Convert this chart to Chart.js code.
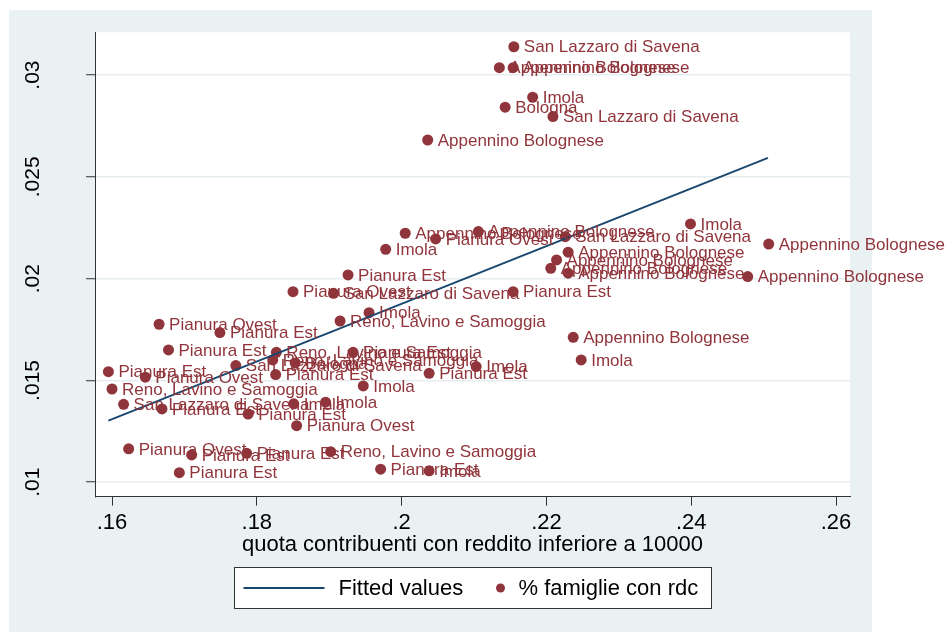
<!DOCTYPE html>
<html>
<head>
<meta charset="utf-8">
<script src="https://cdn.jsdelivr.net/npm/chart.js@4.4.0/dist/chart.umd.min.js"></script>
<style>
  html, body { margin: 0; padding: 0; background: #fff; }
  #wrap { width: 948px; height: 632px; }
</style>
</head>
<body>
<div id="wrap"><canvas id="chart" width="948" height="632"></canvas></div>
<script>
// scatter points: share of low-income taxpayers vs % families with rdc
var xValues = [
    0.2155, 0.2135, 0.2154, 0.2181, 0.2143, 0.2209, 0.2036,
    0.2005, 0.2106, 0.2047, 0.2226, 0.1978, 0.2399, 0.2507,
    0.2230, 0.2214, 0.2206, 0.2230, 0.2478, 0.2154,
    0.1926, 0.1850, 0.1906, 0.1955, 0.1915, 0.1665, 0.1749,
    0.2237, 0.2248, 0.1678, 0.1827, 0.1933, 0.1771, 0.1822,
    0.1853, 0.1595, 0.1646, 0.1826, 0.1600, 0.1947, 0.2038,
    0.2103, 0.1616, 0.1669, 0.1851, 0.1895, 0.1788, 0.1855,
    0.1623, 0.1710, 0.1786, 0.1902, 0.1693, 0.1971, 0.2038
];
var yValues = [
    0.03139, 0.03036, 0.03036, 0.02891, 0.02842, 0.02796, 0.02681,
    0.02223, 0.02231, 0.02195, 0.02206, 0.02144, 0.02269, 0.02170,
    0.02130, 0.02092, 0.02051, 0.02027, 0.02010, 0.01936,
    0.02018, 0.01936, 0.01928, 0.01833, 0.01792, 0.01776, 0.01735,
    0.01712, 0.01601, 0.01650, 0.01638, 0.01638, 0.01573, 0.01601,
    0.01586, 0.01543, 0.01516, 0.01529, 0.01458, 0.01473, 0.01535,
    0.01568, 0.01383, 0.01360, 0.01385, 0.01393, 0.01335, 0.01278,
    0.01164, 0.01134, 0.01142, 0.01150, 0.01047, 0.01064, 0.01056
];
var areaNames = [
    "San Lazzaro di Savena", "Appennino Bolognese", "Appennino Bolognese", "Imola", "Bologna", "San Lazzaro di Savena", "Appennino Bolognese",
    "Appennino Bolognese", "Appennino Bolognese", "Pianura Ovest", "San Lazzaro di Savena", "Imola", "Imola", "Appennino Bolognese",
    "Appennino Bolognese", "Appennino Bolognese", "Appennino Bolognese", "Appennino Bolognese", "Appennino Bolognese", "Pianura Est",
    "Pianura Est", "Pianura Ovest", "San Lazzaro di Savena", "Imola", "Reno, Lavino e Samoggia", "Pianura Ovest", "Pianura Est",
    "Appennino Bolognese", "Imola", "Pianura Est", "Reno, Lavino e Samoggia", "Pianura Est", "San Lazzaro di Savena", "Reno, Lavino e Samoggia",
    "Bologna", "Pianura Est", "Pianura Ovest", "Pianura Est", "Reno, Lavino e Samoggia", "Imola", "Pianura Est",
    "Imola", "San Lazzaro di Savena", "Pianura Est", "Imola", "Imola", "Pianura Est", "Pianura Ovest",
    "Pianura Ovest", "Pianura Est", "Pianura Est", "Reno, Lavino e Samoggia", "Pianura Est", "Pianura Est", "Imola"
];
// fitted line end points
var fitX = [0.1595, 0.2506];
var fitY = [0.01303, 0.02593];

var xTicks = [0.16, 0.18, 0.2, 0.22, 0.24, 0.26];
var yTicks = [0.01, 0.015, 0.02, 0.025, 0.03];

var fontFamily = '"Liberation Sans", Arial, sans-serif';
var maroon = '#90353b';
var navy = '#1a476f';
var axisColor = '#333333';

function stataLabel(v) {
    return String(v).replace(/^0\./, '.');
}

function noScalePadding(s) {
    s.paddingTop = 0;
    s.paddingBottom = 0;
    s.paddingLeft = 0;
    s.paddingRight = 0;
}

var background = {
    id: 'background',
    beforeDraw: function(chart) {
        var ctx = chart.ctx, a = chart.chartArea;
        ctx.save();
        ctx.fillStyle = '#ffffff';
        ctx.fillRect(0, 0, chart.width, chart.height);
        ctx.fillStyle = '#eaf1f3';
        ctx.fillRect(9, 10, 863, 622);
        ctx.fillStyle = '#ffffff';
        ctx.fillRect(a.left, a.top, a.right - a.left, a.bottom - a.top);
        ctx.restore();
    }
};

var pointLabels = {
    id: 'pointLabels',
    afterDatasetsDraw: function(chart) {
        var ctx = chart.ctx;
        var meta = chart.getDatasetMeta(1);
        ctx.save();
        ctx.font = '17px ' + fontFamily;
        ctx.fillStyle = maroon;
        ctx.textBaseline = 'middle';
        ctx.textAlign = 'left';
        meta.data.forEach(function(pt, i) {
            ctx.fillText(areaNames[i], pt.x + 10, pt.y + 1);
        });
        ctx.restore();
    }
};

var boxLegend = {
    id: 'boxLegend',
    afterDraw: function(chart) {
        var ctx = chart.ctx, a = chart.chartArea;
        var w = 477, h = 41;
        var left = Math.round((a.left + a.right) / 2 - w / 2) + 0.5;
        var top = 567.5;
        var mid = top + h / 2;
        ctx.save();
        ctx.fillStyle = '#ffffff';
        ctx.fillRect(left, top, w, h);
        ctx.strokeStyle = axisColor;
        ctx.lineWidth = 1;
        ctx.strokeRect(left, top, w, h);

        ctx.strokeStyle = navy;
        ctx.lineWidth = 2;
        ctx.beginPath();
        ctx.moveTo(left + 9, mid);
        ctx.lineTo(left + 90, mid);
        ctx.stroke();

        ctx.font = '22px ' + fontFamily;
        ctx.fillStyle = '#000000';
        ctx.textBaseline = 'middle';
        ctx.fillText(chart.data.datasets[0].label, left + 104, mid + 1);

        ctx.fillStyle = maroon;
        ctx.beginPath();
        ctx.arc(left + 266, mid, 4.5, 0, Math.PI * 2);
        ctx.fill();

        ctx.fillStyle = '#000000';
        ctx.fillText(chart.data.datasets[1].label, left + 284, mid + 1);
        ctx.restore();
    }
};

var scatterData = xValues.map(function(x, i) { return { x: x, y: yValues[i] }; });
var fitData = fitX.map(function(x, i) { return { x: x, y: fitY[i] }; });

Chart.defaults.font.family = fontFamily;

new Chart(document.getElementById('chart').getContext('2d'), {
    type: 'scatter',
    data: {
        datasets: [{
            type: 'line',
            label: 'Fitted values',
            data: fitData,
            borderColor: navy,
            borderWidth: 2,
            pointRadius: 0,
            fill: false,
            tension: 0
        }, {
            label: '% famiglie con rdc',
            data: scatterData,
            backgroundColor: maroon,
            borderWidth: 0,
            pointRadius: 5.5,
            pointHoverRadius: 5.5
        }]
    },
    options: {
        responsive: false,
        animation: false,
        devicePixelRatio: 1,
        layout: { padding: { left: 0, top: 32.3, right: 98, bottom: 73.8 } },
        plugins: {
            legend: { display: false },
            tooltip: { enabled: false }
        },
        scales: {
            x: {
                type: 'linear',
                min: 0.15765,
                max: 0.26193,
                afterBuildTicks: function(s) {
                    s.ticks = xTicks.map(function(v) { return { value: v }; });
                },
                afterFit: function(s) { s.height = 61.5; noScalePadding(s); },
                grid: { drawOnChartArea: false, tickLength: 9, tickColor: axisColor, tickWidth: 1 },
                border: { color: axisColor, width: 1 },
                ticks: {
                    padding: 4,
                    color: '#000000',
                    maxRotation: 0,
                    font: { size: 22 },
                    callback: function(v) { return stataLabel(v); }
                },
                title: {
                    display: true,
                    text: 'quota contribuenti con reddito inferiore a 10000',
                    color: '#000000',
                    font: { size: 22 },
                    padding: 0
                }
            },
            y: {
                type: 'linear',
                min: 0.00929,
                max: 0.0321,
                afterBuildTicks: function(s) {
                    s.ticks = yTicks.map(function(v) { return { value: v }; });
                },
                afterFit: function(s) { s.width = 95; noScalePadding(s); },
                grid: { color: '#e6eef1', lineWidth: 1.5, tickLength: 9, tickColor: axisColor, tickWidth: 1 },
                border: { color: axisColor, width: 1 },
                ticks: {
                    minRotation: 90,
                    maxRotation: 90,
                    crossAlign: 'center',
                    padding: 32,
                    color: '#000000',
                    font: { size: 21 },
                    callback: function(v) { return stataLabel(v); }
                }
            }
        }
    },
    plugins: [background, pointLabels, boxLegend]
});
</script>
</body>
</html>
